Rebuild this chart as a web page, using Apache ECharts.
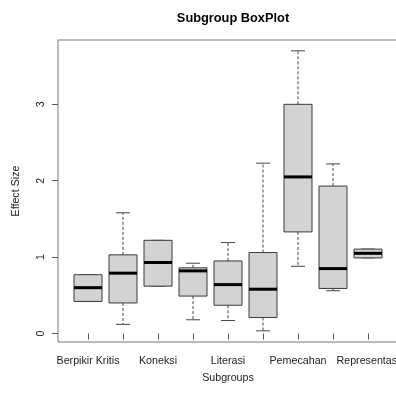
<!DOCTYPE html>
<html>
<head>
<meta charset="utf-8">
<script src="https://cdn.jsdelivr.net/npm/echarts@6/dist/echarts.min.js"></script>
<style>html,body{margin:0;padding:0;background:#fff}#c{width:396px;height:394px}</style>
</head>
<body>
<div id="c"></div>
<script>
var categories = ["Berpikir Kritis", "Komunikasi", "Koneksi", "Kreativitas", "Literasi", "Pemahaman", "Pemecahan", "Penalaran", "Representasi"];
var mins    = [0.42, 0.12, 0.62, 0.18, 0.17, 0.035, 0.88, 0.56, 0.99];
var q1s     = [0.42, 0.40, 0.62, 0.49, 0.37, 0.21, 1.33, 0.59, 0.99];
var medians = [0.60, 0.79, 0.93, 0.82, 0.64, 0.58, 2.05, 0.85, 1.05];
var q3s     = [0.77, 1.03, 1.22, 0.86, 0.95, 1.06, 3.00, 1.93, 1.105];
var maxs    = [0.77, 1.58, 1.22, 0.92, 1.19, 2.23, 3.70, 2.22, 1.105];
var yTicks = [0, 1, 2, 3];

var data = categories.map(function (c, i) {
  return [i, mins[i], q1s[i], medians[i], q3s[i], maxs[i]];
});

var chart = echarts.init(document.getElementById('c'), null, {renderer: 'canvas'});
var font = 'Liberation Sans, Arial, Helvetica, sans-serif';

function renderItem(params, api) {
  var x = api.value(0);
  var band = api.size([1, 0])[0];
  var bw = band * 0.8, cw = bw * 0.5;
  var pMin = api.coord([x, api.value(1)]);
  var pQ1 = api.coord([x, api.value(2)]);
  var pMed = api.coord([x, api.value(3)]);
  var pQ3 = api.coord([x, api.value(4)]);
  var pMax = api.coord([x, api.value(5)]);
  var cx = pMed[0];
  var stroke = '#3a3a3a';
  var children = [];
  children.push({type: 'line', shape: {x1: cx, y1: pQ3[1], x2: cx, y2: pMax[1]}, style: {stroke: '#444', lineWidth: 1, lineDash: [3, 2]}});
  children.push({type: 'line', shape: {x1: cx, y1: pQ1[1], x2: cx, y2: pMin[1]}, style: {stroke: '#444', lineWidth: 1, lineDash: [3, 2]}});
  children.push({type: 'line', shape: {x1: cx - cw / 2, y1: pMax[1], x2: cx + cw / 2, y2: pMax[1]}, style: {stroke: '#444', lineWidth: 1}});
  children.push({type: 'line', shape: {x1: cx - cw / 2, y1: pMin[1], x2: cx + cw / 2, y2: pMin[1]}, style: {stroke: '#444', lineWidth: 1}});
  children.push({type: 'rect', shape: {x: cx - bw / 2, y: pQ3[1], width: bw, height: pQ1[1] - pQ3[1]}, style: {fill: '#d3d3d3', stroke: stroke, lineWidth: 1}});
  children.push({type: 'line', shape: {x1: cx - bw / 2, y1: pMed[1], x2: cx + bw / 2, y2: pMed[1]}, style: {stroke: '#000', lineWidth: 3}});
  return {type: 'group', children: children};
}

chart.setOption({
  animation: false,
  backgroundColor: '#fff',
  title: {
    text: 'Subgroup BoxPlot', left: 228, top: 7, textAlign: 'center',
    textStyle: {fontFamily: font, fontSize: 12.8, fontWeight: 'bold', color: '#000'}
  },
  grid: [
    {left: 58, top: 40, width: 340, bottom: 52, show: true, borderColor: '#777', borderWidth: 1, backgroundColor: 'transparent', containLabel: false, outerBoundsMode: 'none'},
    {left: 70.5, top: 40, width: 315, bottom: 52, containLabel: false, outerBoundsMode: 'none'}
  ],
  xAxis: [
    {gridIndex: 0, type: 'value', min: 0, max: 1, show: false},
    {
      gridIndex: 1, type: 'category', data: categories, boundaryGap: true,
      name: 'Subgroups', nameLocation: 'middle', nameGap: 31,
      nameTextStyle: {fontFamily: font, fontSize: 10.7, color: '#222'},
      axisLine: {show: false},
      axisTick: {show: true, alignWithLabel: true, interval: 0, length: 6, lineStyle: {color: '#555'}},
      axisLabel: {interval: 1, margin: 14, hideOverlap: false, fontFamily: font, fontSize: 10.7, color: '#222'},
      splitLine: {show: false}
    }
  ],
  yAxis: [
    {
      gridIndex: 0, type: 'value', min: -0.111, max: 3.842,
      name: 'Effect Size', nameLocation: 'middle', nameGap: 36, nameRotate: 90,
      nameTextStyle: {fontFamily: font, fontSize: 10.7, color: '#222'},
      axisLine: {show: false},
      axisTick: {show: true, length: 6, customValues: yTicks, lineStyle: {color: '#555'}},
      axisLabel: {customValues: yTicks, rotate: 90, margin: 11, fontFamily: font, fontSize: 10.7, color: '#222'},
      splitLine: {show: false}
    },
    {gridIndex: 1, type: 'value', min: -0.111, max: 3.842, show: false, splitLine: {show: false}}
  ],
  series: [{
    type: 'custom', xAxisIndex: 1, yAxisIndex: 1,
    renderItem: renderItem,
    encode: {x: 0, y: [1, 2, 3, 4, 5]},
    data: data,
    clip: false
  }]
});
</script>
</body>
</html>
